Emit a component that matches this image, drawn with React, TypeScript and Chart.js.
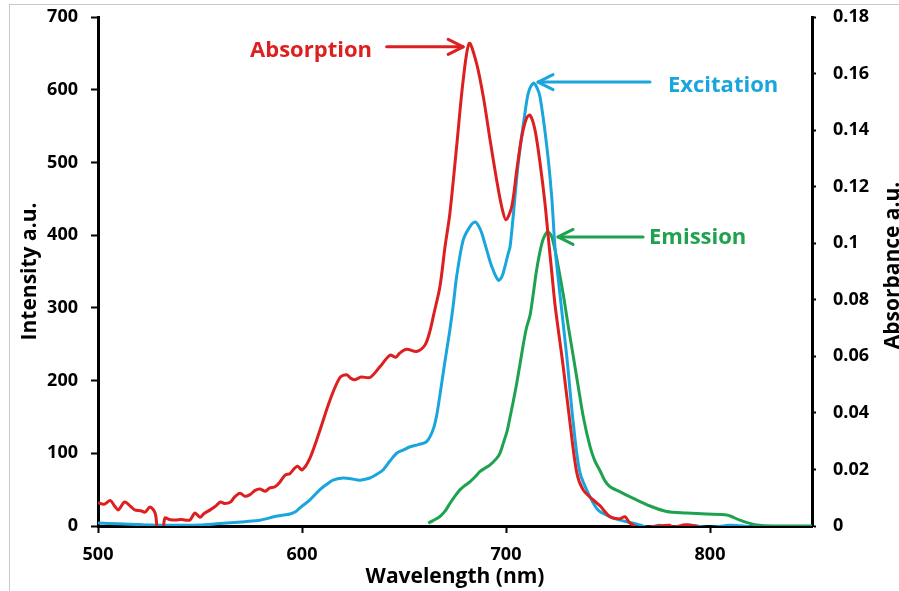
import React, { useEffect, useRef } from "react";
import { Chart, registerables } from "chart.js";

Chart.register(...registerables);

// ---------- DATA ----------
const absorptionWavelength = [
  500, 503, 506, 508, 510, 513, 516, 518, 521, 523, 525.5, 528, 529.5, 531.5, 532.8, 535, 537.7, 541, 545,
  547.5, 550, 552, 555, 558, 560, 562, 565, 567, 569.6, 572, 574.5, 577, 579.4, 582, 584, 586.8, 589, 591.7,
  594, 596.6, 598, 600, 603.9, 608.8, 613.7, 618.6, 621.9, 624, 626, 629, 633.3, 638.2, 643.1, 646, 648,
  651.3, 656.2, 660.3, 662.7, 664.5, 667.6, 670.1, 672.5, 675.8, 679, 682, 685.6, 688.9, 692.2, 695.4, 697.9,
  700, 702.8, 705.3, 707.7, 710.1, 711.8, 714.2, 716.7, 719.1, 720.7, 722.4, 724, 726, 728, 731.4, 734.7,
  737.7, 742.6, 746, 751, 755.9, 758.3, 760.8, 765, 772, 780, 782, 788, 792, 796,
];
const absorbance = [
  0.0082, 0.0077, 0.009, 0.0072, 0.0057, 0.0085, 0.0069, 0.0057, 0.0054, 0.0049, 0.0067, 0.0046, -0.003,
  -0.003, 0.0028, 0.0023, 0.0021, 0.0023, 0.0021, 0.0046, 0.0031, 0.0044, 0.0057, 0.0072, 0.0085, 0.008,
  0.0085, 0.0103, 0.0116, 0.0105, 0.0111, 0.0126, 0.0131, 0.0123, 0.0134, 0.0139, 0.0154, 0.018, 0.0185,
  0.0206, 0.0211, 0.0198, 0.024, 0.0339, 0.0445, 0.0525, 0.0535, 0.0522, 0.0517, 0.0527, 0.0525, 0.0563,
  0.0604, 0.0597, 0.0612, 0.0625, 0.0617, 0.064, 0.0689, 0.0746, 0.0846, 0.0987, 0.1106, 0.1342, 0.1576,
  0.1707, 0.1635, 0.1517, 0.1365, 0.1224, 0.1129, 0.1083, 0.1129, 0.126, 0.1376, 0.1443, 0.1453, 0.1401,
  0.1283, 0.1142, 0.1023, 0.09, 0.0784, 0.0674, 0.0566, 0.0363, 0.0188, 0.0129, 0.0093, 0.0072, 0.0033,
  0.0026, 0.0033, 0.001, -0.0005, -0.0003, 0.0003, -0.0004, 0.0004, 0.0001, -0.0008,
];

const excitationWavelength = [
  500, 510, 520, 525, 535, 550, 558, 565, 572, 579.4, 586.8, 591, 594.1, 597, 599, 603.9, 608.8, 612, 615.2,
  620.1, 624, 628.4, 633.3, 636, 639.7, 643, 646.4, 650, 653, 657, 661.1, 664.2, 666, 667.6, 670, 672.5, 674.2,
  675.8, 679, 682.4, 684.8, 686.5, 688.1, 690.5, 693, 696.2, 698, 699.5, 701.1, 702, 703.6, 706, 709.3, 711,
  713.4, 715, 716.7, 720, 722.4, 724, 726, 729.8, 733, 736.3, 741.2, 745.1, 750, 755.9, 762.3, 766, 770, 775,
  780, 790, 800, 810, 820, 830,
];
const excitation = [
  4, 3, 2, 1.5, 1, 1.5, 3, 4.5, 6, 8, 13, 15, 16.5, 20, 25, 36, 50, 57, 63, 66, 65, 63, 66, 70, 77, 89, 100,
  105, 109, 112, 116, 132, 152, 180, 225, 270, 305, 343, 393, 412, 418, 413, 403, 380, 357, 338, 343, 357,
  375, 384, 428, 499, 568, 596, 609, 604, 590, 522, 453, 384, 330, 233, 141, 73, 40, 22, 14, 8, 4, 1, -2, 1,
  -2, 1, -2, 1, -1, -2,
];

const emissionWavelength = [
  661.9, 664, 667.6, 670, 672.5, 675, 677.5, 680, 682.4, 685, 687.3, 690, 692.2, 695.4, 697, 698.7, 700.5,
  702, 703.6, 705.3, 707, 708.5, 710, 711.8, 713.5, 715, 716.7, 718.3, 720, 721.2, 722.4, 724, 725.6, 728.1,
  730.5, 733, 735.5, 737.9, 741.2, 743.5, 746.1, 748.5, 751, 755.9, 762.4, 770.6, 778.8, 788.6, 798.4,
  808.2, 814.7, 819, 822.9, 830.9, 850,
];
const emission = [
  4, 7, 13, 20, 31, 41, 50, 56, 61, 68, 75, 80, 84, 93, 100, 114, 130, 150, 172, 197, 225, 250, 272, 290,
  322, 352, 378, 395, 404, 403, 398, 380, 357, 318, 275, 233, 190, 150, 109, 90, 76, 62, 54, 47, 38, 27.5,
  20, 18, 16.5, 15, 8, 4, 1.4, 0, 0,
];

const xTickValues = [500, 600, 700, 800];

// ---------- STYLE ----------
const RED = "#DD1F1F";
const BLUE = "#1AA6DC";
const GREEN = "#1EA24F";
const FONT = "'Open Sans', sans-serif";

const ANNOTATIONS = [
  { text: "Absorption", color: RED, textNm: 634.3, textVal: 654, align: "right", tailNm: 641.5, tipNm: 679, arrowVal: 659 },
  { text: "Excitation", color: BLUE, textNm: 779.4, textVal: 606, align: "left", tailNm: 770.6, tipNm: 715.7, arrowVal: 610.5 },
  { text: "Emission", color: GREEN, textNm: 770.1, textVal: 396, align: "left", tailNm: 767.2, tipNm: 725.5, arrowVal: 397.5 },
];
const RIGHT_TITLE = "Absorbance a.u.";

const toPoints = (xs: number[], ys: number[]) => xs.map((x, i) => ({ x, y: ys[i] }));

const arrowPlugin = {
  id: "arrowLabels",
  afterDatasetsDraw(chart: any) {
    const { ctx, scales } = chart;
    const xs = scales.x;
    const ys = scales.y;
    ctx.save();
    for (const a of ANNOTATIONS) {
      ctx.strokeStyle = a.color;
      ctx.fillStyle = a.color;
      ctx.lineWidth = 3;
      ctx.lineCap = "round";
      ctx.lineJoin = "round";
      const py = ys.getPixelForValue(a.arrowVal);
      const xt = xs.getPixelForValue(a.tailNm);
      const xh = xs.getPixelForValue(a.tipNm);
      ctx.beginPath();
      ctx.moveTo(xt, py);
      ctx.lineTo(xh, py);
      ctx.stroke();
      const dir = Math.sign(xh - xt);
      ctx.beginPath();
      ctx.moveTo(xh - dir * 15, py - 7.5);
      ctx.lineTo(xh, py);
      ctx.lineTo(xh - dir * 15, py + 7.5);
      ctx.stroke();
      ctx.font = `bold 22px ${FONT}`;
      ctx.textAlign = a.align as CanvasTextAlign;
      ctx.textBaseline = "middle";
      ctx.fillText(a.text, xs.getPixelForValue(a.textNm), ys.getPixelForValue(a.textVal));
    }
    // right axis title, reading bottom-to-top
    const r = scales.y1;
    ctx.translate(r.right - 6, (chart.chartArea.top + chart.chartArea.bottom) / 2 - 6);
    ctx.rotate(-Math.PI / 2);
    ctx.fillStyle = "#000";
    ctx.font = `bold 21px ${FONT}`;
    ctx.textAlign = "center";
    ctx.textBaseline = "middle";
    ctx.fillText(RIGHT_TITLE, 0, 0);
    ctx.restore();
  },
};

export default function App() {
  const ref = useRef<HTMLCanvasElement>(null);

  useEffect(() => {
    if (!ref.current) return;
    const tickFont = { family: FONT, size: 18, weight: "bold" as const };
    const titleFont = { family: FONT, size: 21, weight: "bold" as const };
    const chart = new Chart(ref.current, {
      type: "line",
      data: {
        datasets: [
          {
            label: "Absorption",
            data: toPoints(absorptionWavelength, absorbance),
            yAxisID: "y1",
            borderColor: RED,
            borderWidth: 3,
            pointRadius: 0,
            tension: 0.3,
            fill: false,
          },
          {
            label: "Excitation",
            data: toPoints(excitationWavelength, excitation),
            yAxisID: "y",
            borderColor: BLUE,
            borderWidth: 3,
            pointRadius: 0,
            tension: 0.3,
            fill: false,
          },
          {
            label: "Emission",
            data: toPoints(emissionWavelength, emission),
            yAxisID: "y",
            borderColor: GREEN,
            borderWidth: 3,
            pointRadius: 0,
            tension: 0.3,
            fill: false,
          },
        ],
      },
      options: {
        responsive: false,
        animation: false,
        layout: { padding: { top: 17, left: 0, right: 0, bottom: 0 } },
        plugins: { legend: { display: false }, tooltip: { enabled: false } },
        scales: {
          x: {
            type: "linear",
            min: 500,
            max: 850,
            afterBuildTicks: (s: any) => {
              s.ticks = xTickValues.map((v) => ({ value: v }));
            },
            afterFit: (s: any) => {
              s.height = 65;
              s.paddingLeft = 0;
              s.paddingRight = 0;
            },
            border: { display: true, color: "#000", width: 3 },
            grid: { drawOnChartArea: false, drawTicks: true, tickLength: 7, tickWidth: 2, tickColor: "#000" },
            ticks: { color: "#000", font: tickFont, padding: 11, maxRotation: 0 },
            title: { display: true, text: "Wavelength (nm)", color: "#000", font: titleFont, padding: { top: 0, bottom: 1 } },
          },
          y: {
            type: "linear",
            position: "left",
            min: 0,
            max: 700,
            ticks: { stepSize: 100, color: "#000", font: tickFont, padding: 13 },
            afterFit: (s: any) => {
              s.width = 98;
              s.paddingTop = 0;
              s.paddingBottom = 0;
            },
            border: { display: true, color: "#000", width: 3 },
            grid: { drawOnChartArea: false, drawTicks: true, tickLength: 7, tickWidth: 2, tickColor: "#000" },
            title: { display: true, text: "Intensity a.u.", color: "#000", font: titleFont, padding: { top: 17, bottom: 0 } },
          },
          y1: {
            type: "linear",
            position: "right",
            min: 0,
            max: 0.18,
            ticks: {
              stepSize: 0.02,
              color: "#000",
              font: tickFont,
              padding: 17,
              callback: (v: any) => String(+Number(v).toFixed(2)),
            },
            afterFit: (s: any) => {
              s.width = 87;
              s.paddingTop = 0;
              s.paddingBottom = 0;
            },
            border: { display: true, color: "#000", width: 3 },
            grid: { drawOnChartArea: false, drawTicks: true, tickLength: 4, tickWidth: 2, tickColor: "#000" },
            title: { display: false },
          },
        },
      },
      plugins: [arrowPlugin],
    });
    return () => chart.destroy();
  }, []);

  return (
    <div style={{ position: "absolute", left: 0, top: 0, width: 899, height: 591, background: "#fff", overflow: "hidden" }}>
      <div
        style={{
          position: "absolute",
          left: 9,
          top: 4,
          width: 1000,
          height: 1000,
          borderTop: "1px solid #c8c8c8",
          borderLeft: "1px solid #c8c8c8",
        }}
      />
      <canvas ref={ref} width={899} height={591} style={{ position: "absolute", left: 0, top: 0 }} />
    </div>
  );
}
